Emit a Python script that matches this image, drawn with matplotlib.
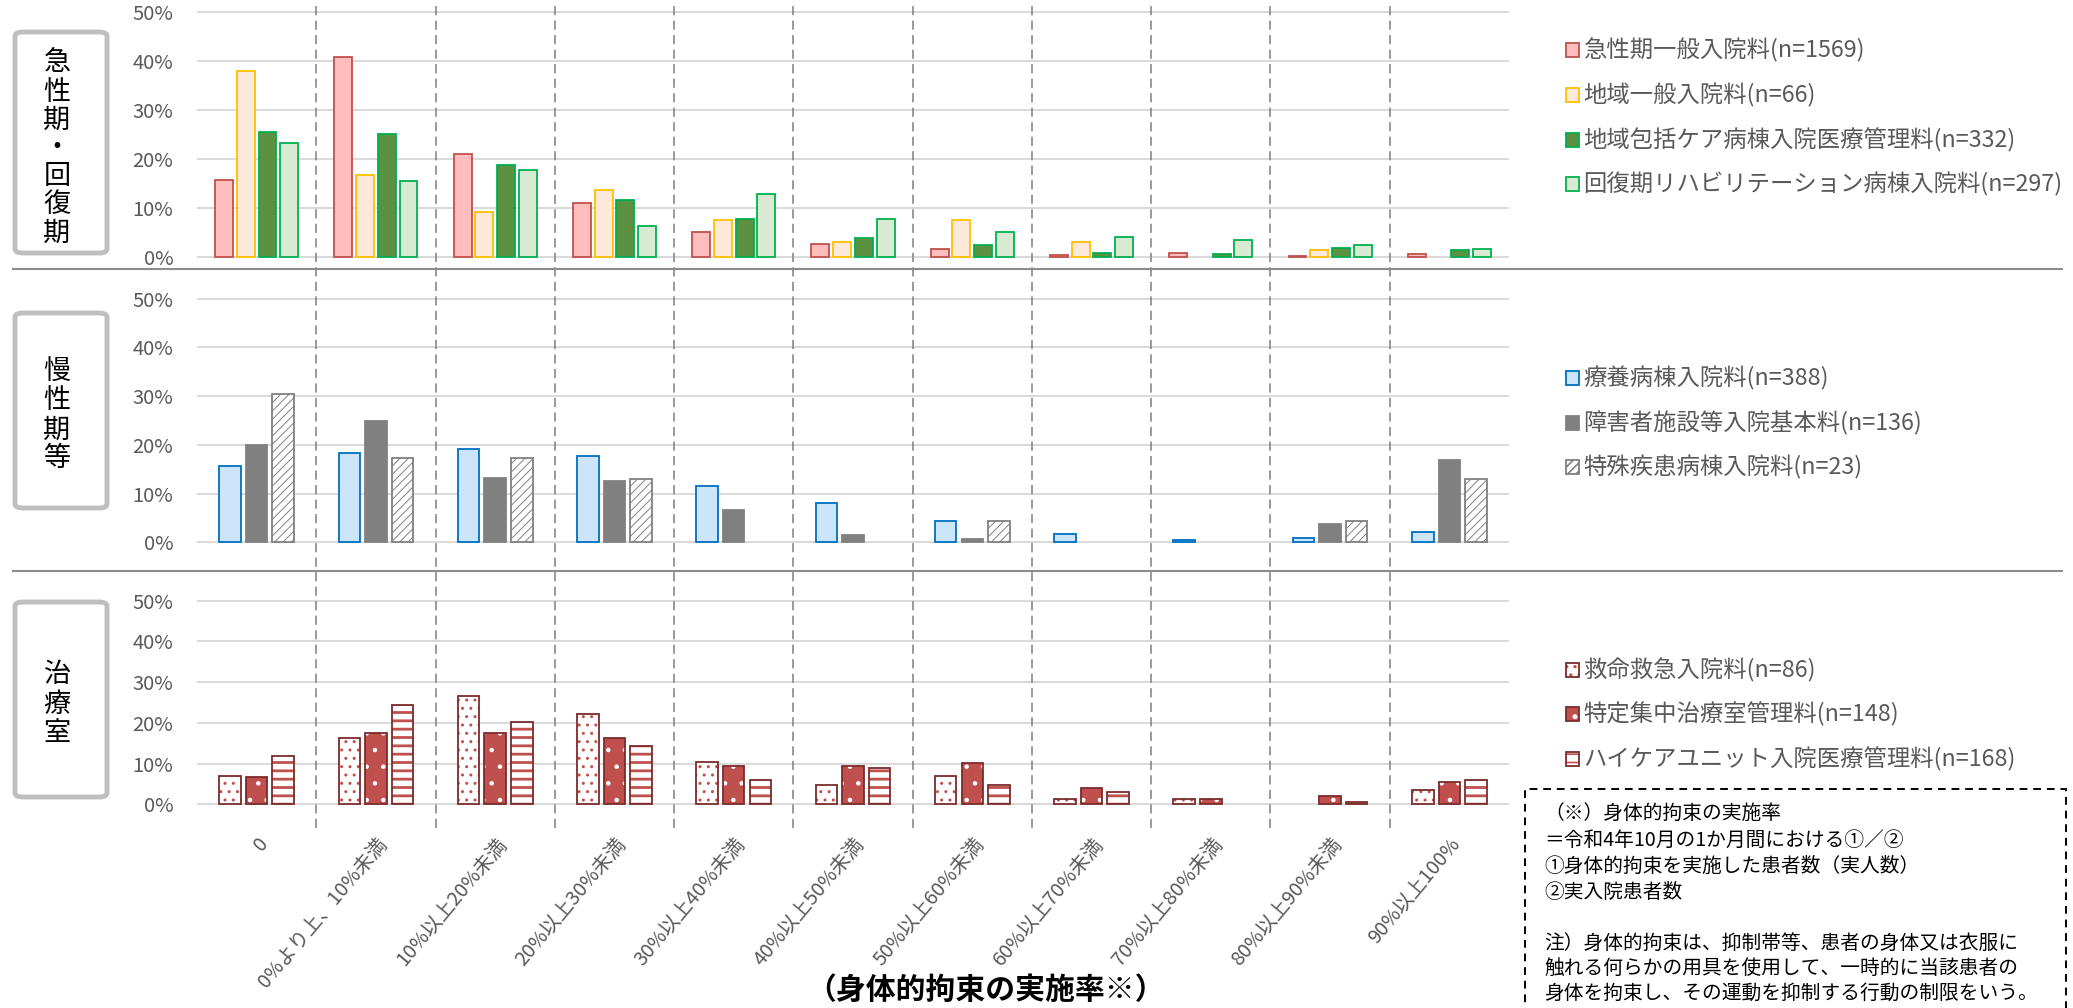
import matplotlib
matplotlib.use("Agg")
import matplotlib.pyplot as plt
from matplotlib.patches import Rectangle, FancyBboxPatch
from matplotlib.lines import Line2D
import numpy as np

plt.rcParams['font.family'] = ['Noto Sans CJK JP', 'DejaVu Sans']
plt.rcParams['hatch.linewidth'] = 1.2

# ---------------- data (percent of wards) ----------------
categories = ["0", "0%より上、10%未満", "10%以上20%未満", "20%以上30%未満",
              "30%以上40%未満", "40%以上50%未満", "50%以上60%未満",
              "60%以上70%未満", "70%以上80%未満", "80%以上90%未満", "90%以上100%"]

# acute / recovery phase
acute_names = ["急性期一般入院料(n=1569)", "地域一般入院料(n=66)",
               "地域包括ケア病棟入院医療管理料(n=332)",
               "回復期リハビリテーション病棟入院料(n=297)"]
acute_general = [15.7, 40.9, 21.0, 11.0, 5.0, 2.6, 1.7, 0.5, 0.8, 0.3, 0.6]
regional_general = [37.9, 16.7, 9.1, 13.6, 7.6, 3.0, 7.6, 3.0, 0.0, 1.5, 0.0]
community_care = [25.6, 25.0, 18.7, 11.7, 7.8, 3.9, 2.4, 0.9, 0.6, 1.8, 1.5]
rehabilitation = [23.2, 15.5, 17.8, 6.4, 12.8, 7.7, 5.1, 4.0, 3.4, 2.4, 1.7]

# chronic phase
chronic_names = ["療養病棟入院料(n=388)", "障害者施設等入院基本料(n=136)",
                 "特殊疾患病棟入院料(n=23)"]
long_term_care = [15.7, 18.3, 19.1, 17.8, 11.6, 8.0, 4.4, 1.8, 0.5, 0.8, 2.1]
disability = [19.9, 25.0, 13.2, 12.5, 6.6, 1.5, 0.7, 0.0, 0.0, 3.7, 16.9]
special_disease = [30.4, 17.4, 17.4, 13.0, 0.0, 0.0, 4.3, 0.0, 0.0, 4.3, 13.0]

# intensive care units
icu_names = ["救命救急入院料(n=86)", "特定集中治療室管理料(n=148)",
             "ハイケアユニット入院医療管理料(n=168)"]
emergency = [7.0, 16.3, 26.7, 22.1, 10.5, 4.7, 7.0, 1.2, 1.2, 0.0, 3.5]
intensive = [6.8, 17.6, 17.6, 16.2, 9.5, 9.5, 10.1, 4.1, 1.4, 2.0, 5.4]
high_care = [11.9, 24.4, 20.2, 14.3, 6.0, 8.9, 4.8, 3.0, 0.0, 0.6, 6.0]

yticks = [0, 10, 20, 30, 40, 50]

# ---------------- styles ----------------
RED = "#C0504D"
DARKRED = "#7B2B2B"
acute_styles = [
    dict(face="#FFBDBD", edge=RED, hatch=None, hcolor=None),
    dict(face="#FDE9D9", edge="#FFC000", hatch=None, hcolor=None),
    dict(face="#5B9140", edge="#00B050", hatch=None, hcolor=None),
    dict(face="#D9EAD3", edge="#00B050", hatch=None, hcolor=None),
]
chronic_styles = [
    dict(face="#CCE5FA", edge="#0070C0", hatch=None, hcolor=None),
    dict(face="#808080", edge="#808080", hatch=None, hcolor=None),
    dict(face="white", edge="#808080", hatch="////", hcolor="#808080", hlw=0.7),
]
icu_styles = [
    dict(face="white", edge=DARKRED, hatch="..", hcolor=RED, hlw=1.0),
    dict(face=RED, edge=DARKRED, hatch=".", hcolor="white", hlw=0.8),
    dict(face="white", edge=DARKRED, hatch="--", hcolor=RED, hlw=2.0),
]

W, H = 2073, 1008
fig = plt.figure(figsize=(W / 100, H / 100), dpi=100)


def fx(x):
    return x / W


def fy(y):
    return 1 - y / H


PLOT_L, PLOT_R = 197, 1509
MARGIN = 0.4  # percent of headroom so edge gridlines are not clipped


def make_panel(y0, y50):
    ppp = (y0 - y50) / 50.0
    bottom = y0 + MARGIN * ppp
    top = y50 - MARGIN * ppp
    ax = fig.add_axes([fx(PLOT_L), fy(bottom), (PLOT_R - PLOT_L) / W, (bottom - top) / H])
    ax.set_xlim(-0.5, 10.5)
    ax.set_ylim(-MARGIN, 50 + MARGIN)
    ax.set_yticks(yticks)
    ax.set_yticklabels([f"{v}%" for v in yticks])
    ax.tick_params(axis='y', length=0, pad=17, labelsize=14.5, labelcolor="#595959")
    ax.tick_params(axis='x', length=0)
    for s in ax.spines.values():
        s.set_visible(False)
    ax.grid(axis='y', color="#D9D9D9", linewidth=1.4)
    ax.set_axisbelow(True)
    ax.patch.set_visible(False)
    return ax


def draw_bars(ax, series, styles, width, step):
    n = len(series)
    x = np.arange(len(categories))
    for i, (vals, st) in enumerate(zip(series, styles)):
        off = (i - (n - 1) / 2) * step
        vals = np.asarray(vals, dtype=float)
        if st["hatch"]:
            base = ax.bar(x + off, vals, width, color=st["face"], edgecolor=st["hcolor"],
                          hatch=st["hatch"], linewidth=0, zorder=2)
            for p in base.patches:
                if hasattr(p, "set_hatch_linewidth"):
                    p.set_hatch_linewidth(st["hlw"])
            outline = ax.bar(x + off, vals, width, fill=False, edgecolor=st["edge"],
                             linewidth=1.3, zorder=3)
            groups = [base, outline]
        else:
            groups = [ax.bar(x + off, vals, width, color=st["face"], edgecolor=st["edge"],
                             linewidth=1.3, zorder=2)]
        for g in groups:
            for p, v in zip(g.patches, vals):
                p.set_visible(v > 0)


ax1 = make_panel(257, 12)
draw_bars(ax1, [acute_general, regional_general, community_care, rehabilitation],
          acute_styles, 0.15, 0.182)
ax1.set_xticks([])

ax2 = make_panel(542.3, 298.7)
draw_bars(ax2, [long_term_care, disability, special_disease], chronic_styles, 0.18, 0.223)
ax2.set_xticks([])

ax3 = make_panel(804.3, 600.7)
draw_bars(ax3, [emergency, intensive, high_care], icu_styles, 0.18, 0.223)
ax3.set_xticks(np.arange(len(categories)))
ax3.set_xticklabels(categories, rotation=50, ha='right', va='top',
                    rotation_mode='anchor', fontsize=14.3, color="#595959")
ax3.tick_params(axis='x', length=0, pad=20)

# dashed category separators running through all three panels
ov = fig.add_axes([fx(PLOT_L), fy(828), (PLOT_R - PLOT_L) / W, (828 - 6) / H])
ov.set_xlim(-0.5, 10.5)
ov.set_ylim(0, 1)
ov.axis('off')
ov.patch.set_visible(False)
ov.vlines(np.arange(len(categories) - 1) + 0.5, 0, 1, colors="#7F7F7F",
          linewidth=1.1, linestyles=(0, (6, 3.5)))

# horizontal panel separators
for ysep in (269, 571):
    fig.add_artist(Line2D([fx(13), fx(2062)], [fy(ysep), fy(ysep)],
                          color="#8C8C8C", linewidth=1.5))

# group boxes with vertical captions
group_boxes = [
    (32, 253, "急性期・回復期", [63, 92, 120, 148, 177, 205, 233]),
    (313, 508, "慢性期等", [372, 401, 430, 459]),
    (602, 797, "治療室", [674, 704, 734]),
]
for top, bot, caption, ys in group_boxes:
    fig.add_artist(FancyBboxPatch((fx(15), fy(bot)), fx(107) - fx(15), (bot - top) / H,
                                  boxstyle="round,pad=0,rounding_size=0.004",
                                  facecolor="white", edgecolor="#BFBFBF", linewidth=3.5))
    for ch, yc in zip(caption, ys):
        fig.text(fx(57), fy(yc), ch, ha='center', va='center', fontsize=19.5, color="black")

# legends
def legend(entries, styles, ys):
    for name, st, yc in zip(entries, styles, ys):
        x0, y0 = fx(1566), fy(yc + 7)
        w, h = 13 / W, 14 / H
        if st["hatch"]:
            fig.add_artist(Rectangle((x0, y0), w, h, facecolor=st["face"],
                                     edgecolor=st["hcolor"], linewidth=0, hatch=st["hatch"]))
            fig.add_artist(Rectangle((x0, y0), w, h, fill=False,
                                     edgecolor=st["edge"], linewidth=1.3))
        else:
            fig.add_artist(Rectangle((x0, y0), w, h, facecolor=st["face"],
                                     edgecolor=st["edge"], linewidth=1.3))
        fig.text(fx(1583), fy(yc), name, ha='left', va='center', fontsize=16.8,
                 color="#595959")


legend(acute_names, acute_styles, [50, 95, 140, 184])
legend(chronic_names, chronic_styles, [378, 423, 467])
legend(icu_names, icu_styles, [670, 714, 759])

# x-axis caption
fig.text(fx(986), fy(990), "（身体的拘束の実施率※）", ha='center', va='center',
         fontsize=21.5, fontweight='bold', color="black")

# definition note
fig.add_artist(Rectangle((fx(1525), fy(1030)), (2066 - 1525) / W, (1030 - 789) / H,
                         fill=False, edgecolor="black", linewidth=1.4,
                         linestyle=(0, (4, 3))))
note_lines = [
    (813, "（※）身体的拘束の実施率"),
    (840, "＝令和4年10月の1か月間における①／②"),
    (866, "①身体的拘束を実施した患者数（実人数）"),
    (892, "②実入院患者数"),
    (943, "注）身体的拘束は、抑制帯等、患者の身体又は衣服に"),
    (968, "触れる何らかの用具を使用して、一時的に当該患者の"),
    (993, "身体を拘束し、その運動を抑制する行動の制限をいう。"),
]
for yy, line in note_lines:
    fig.text(fx(1544), fy(yy), line, ha='left', va='center', fontsize=14.2, color="black")

fig.savefig("out.png", dpi=100)
